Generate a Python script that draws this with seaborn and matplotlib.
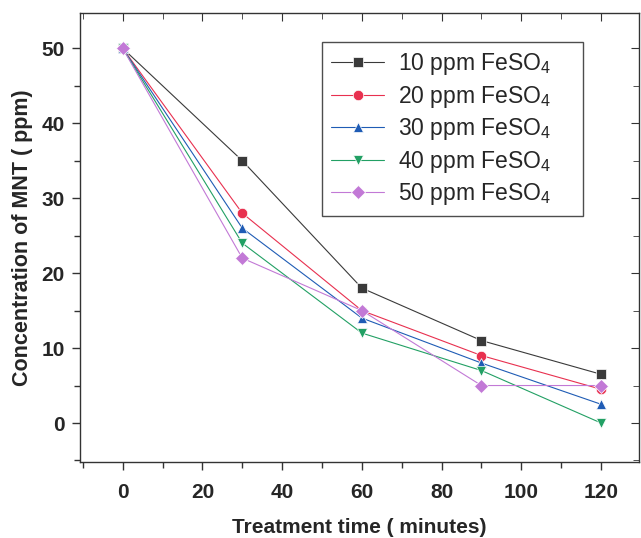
import pandas as pd
import matplotlib
matplotlib.use("Agg")
import matplotlib.pyplot as plt
import seaborn as sns
from matplotlib.ticker import MultipleLocator

# data
time_min = [0, 30, 60, 90, 120]
c10 = [50, 35, 18, 11, 6.5]
c20 = [50, 28, 15, 9, 4.5]
c30 = [50, 26, 14, 8, 2.5]
c40 = [50, 24, 12, 7, 0]
c50 = [50, 22, 15, 5, 5]
labels = ["10 ppm FeSO$_4$", "20 ppm FeSO$_4$", "30 ppm FeSO$_4$",
          "40 ppm FeSO$_4$", "50 ppm FeSO$_4$"]

colors = ["#3a3a3a", "#e8304f", "#1f5cb5", "#22a064", "#c279d6"]
markers = ["s", "o", "^", "v", "D"]

# long table for seaborn
rows = []
for lab, vals in zip(labels, [c10, c20, c30, c40, c50]):
    for t, v in zip(time_min, vals):
        rows.append({"time": t, "conc": v, "dose": lab})
df = pd.DataFrame(rows)

sns.set_style("ticks")
plt.rcParams["font.family"] = ["Liberation Sans", "DejaVu Sans"]
plt.rcParams["mathtext.fontset"] = "custom"
plt.rcParams["mathtext.rm"] = "Liberation Sans"

fig = plt.figure(figsize=(6.41, 5.38), dpi=100)
ax = fig.add_axes([0.1248, 0.1413, 0.872, 0.8345])

sns.lineplot(data=df, x="time", y="conc", hue="dose", style="dose",
             palette=colors, markers=markers, dashes=False,
             linewidth=0.8, markersize=7.5, markeredgewidth=0.5,
             ax=ax, legend=True)

xlim = (-10.7, 129.5)
ylim = (-5.2, 54.7)
ax.set_xlim(*xlim)
ax.set_ylim(*ylim)
ax.xaxis.set_major_locator(MultipleLocator(20))
ax.xaxis.set_minor_locator(MultipleLocator(10))
ax.yaxis.set_major_locator(MultipleLocator(10))
ax.yaxis.set_minor_locator(MultipleLocator(5))
ax.tick_params(which="both", direction="out", labelsize=15, width=1.0, color="#333333")
ax.tick_params(which="major", length=6)
ax.tick_params(which="minor", length=4)
ax.tick_params(axis="x", pad=9)
ax.tick_params(axis="y", pad=5)
for lab in ax.get_xticklabels() + ax.get_yticklabels():
    lab.set_fontweight("bold")
for sp in ax.spines.values():
    sp.set_color("#333333")
    sp.set_linewidth(1.0)

# mirrored ticks on top and right, pointing inward
axr = ax.twinx()
axr.set_ylim(*ylim)
axr.yaxis.set_major_locator(MultipleLocator(10))
axr.yaxis.set_minor_locator(MultipleLocator(5))
axr.tick_params(which="both", direction="in", labelright=False, color="#333333")
axr.tick_params(which="major", length=6)
axr.tick_params(which="minor", length=4)
axt = ax.twiny()
axt.set_xlim(*xlim)
axt.xaxis.set_major_locator(MultipleLocator(20))
axt.xaxis.set_minor_locator(MultipleLocator(10))
axt.tick_params(which="both", direction="in", labeltop=False, color="#333333")
axt.tick_params(which="major", length=6)
axt.tick_params(which="minor", length=4)
for a in (axr, axt):
    a.grid(False)
    for sp in a.spines.values():
        sp.set_visible(False)

ax.set_xlabel("Treatment time ( minutes)", fontsize=15, fontweight="bold", labelpad=12)
ax.set_ylabel("Concentration of MNT ( ppm)", fontsize=15.5, fontweight="bold", labelpad=6)

# wide box with text left aligned, like the original
leg = ax.legend(loc="upper left", bbox_to_anchor=(0.433, 0.5, 0.467, 0.435),
                mode="expand", borderaxespad=0,
                fontsize=16.5, frameon=True, fancybox=False, edgecolor="#222222",
                handlelength=2.3, labelspacing=0.28, borderpad=0.4,
                handletextpad=0.6)
leg.get_frame().set_linewidth(1.0)

fig.savefig("out.png", dpi=100)
